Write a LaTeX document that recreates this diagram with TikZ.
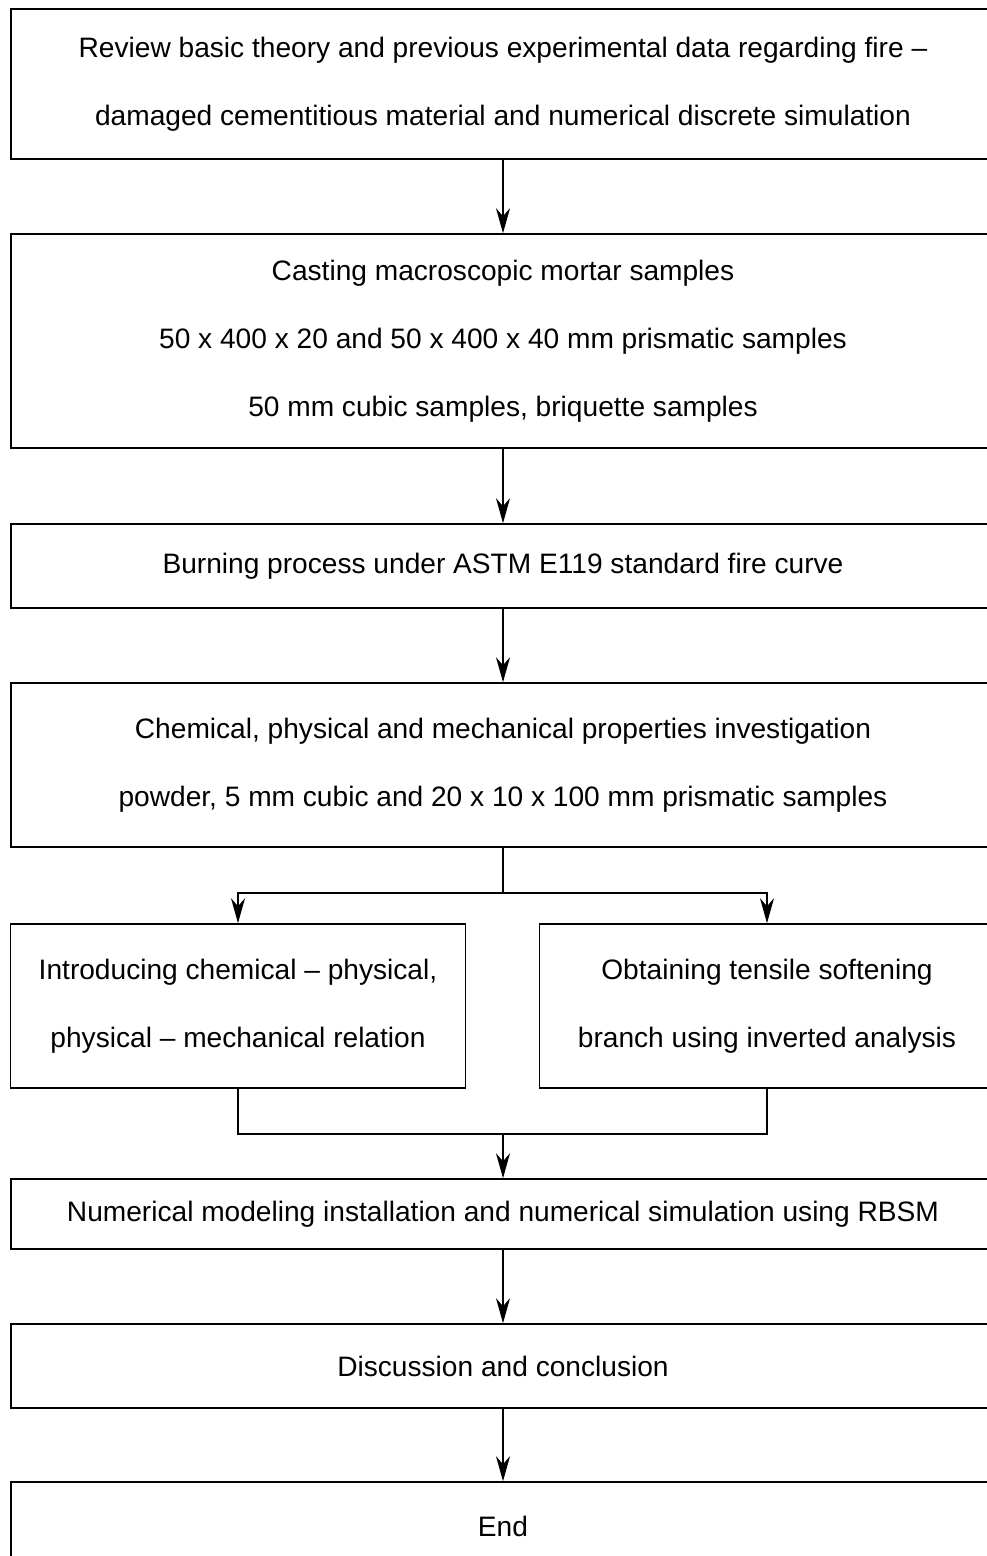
\documentclass[tikz,border=0pt]{standalone}
\usepackage{fontspec}
\setmainfont{Liberation Sans}
\usetikzlibrary{arrows.meta,positioning}

\begin{document}
\begin{tikzpicture}[
  x=0.2mm,y=-0.2mm,
  font=\fontsize{16}{38.6}\selectfont,
  stepbox/.style={draw,line width=0.9pt,minimum width=196.8mm,inner sep=0pt,align=center},
  halfbox/.style={stepbox,minimum width=91.0mm},
  flow/.style={-{Stealth[length=5mm,width=2.8mm,inset=1.6mm]},line width=0.8pt},
  link/.style={line width=0.8pt},
]
  \useasboundingbox (0,0) rectangle (987,1556);

  \node[stepbox,minimum height=30mm] (review) at (503,84) {Review basic theory and previous experimental data regarding fire --\\damaged cementitious material and numerical discrete simulation};
  \node[stepbox,minimum height=42.8mm] (casting) at (503,341) {Casting macroscopic mortar samples\\50 x 400 x 20 and 50 x 400 x 40 mm prismatic samples\\50 mm cubic samples, briquette samples};
  \node[stepbox,minimum height=16.8mm] (burning) at (503,566) {Burning process under ASTM E119 standard fire curve};
  \node[stepbox,minimum height=32.8mm] (props) at (503,765) {Chemical, physical and mechanical properties investigation\\powder, 5 mm cubic and 20 x 10 x 100 mm prismatic samples};
  \node[halfbox,minimum height=32.8mm] (relation) at (238,1006) {Introducing chemical -- physical,\\physical -- mechanical relation};
  \node[halfbox,minimum height=32.8mm] (softening) at (767,1006) {Obtaining tensile softening\\branch using inverted analysis};
  \node[stepbox,minimum height=14mm] (rbsm) at (503,1214) {Numerical modeling installation and numerical simulation using RBSM};
  \node[stepbox,minimum height=16.8mm] (concl) at (503,1366) {Discussion and conclusion};
  \node[stepbox,minimum height=17.6mm] (end) at (503,1526) {End};

  % main chain
  \draw[flow] (review) -- (casting);
  \draw[flow] (casting) -- (burning);
  \draw[flow] (burning) -- (props);

  % split into two branches
  \coordinate (split) at (503,893);
  \draw[link] (props.south) -- (split);
  \draw[flow] (split) -| (relation.north);
  \draw[flow] (split) -| (softening.north);

  % join again
  \coordinate (join) at (503,1134);
  \draw[link] (relation.south) |- (join) -| (softening.south);
  \draw[flow] (join) -- (rbsm);

  \draw[flow] (rbsm) -- (concl);
  \draw[flow] (concl) -- (end);
\end{tikzpicture}
\end{document}
